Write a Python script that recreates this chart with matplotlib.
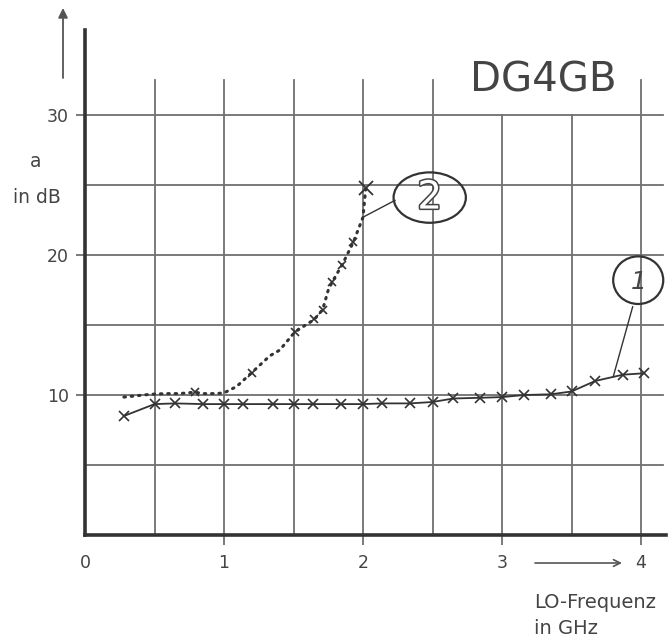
import matplotlib
matplotlib.use("Agg")
import matplotlib.pyplot as plt
from matplotlib.patches import Ellipse
import matplotlib.patheffects as pe

# ---- data ----
freq1 = [0.28, 0.50, 0.65, 0.85, 1.00, 1.14, 1.35, 1.50, 1.64, 1.84, 2.00, 2.14,
         2.34, 2.50, 2.65, 2.84, 3.00, 3.16, 3.35, 3.50, 3.67, 3.87, 4.02]
att1 = [8.5, 9.35, 9.4, 9.35, 9.35, 9.35, 9.35, 9.35, 9.35, 9.35, 9.35, 9.4,
        9.4, 9.5, 9.75, 9.8, 9.85, 10.0, 10.05, 10.25, 11.0, 11.45, 11.55]

freq2 = [0.28, 0.47, 0.58, 0.68, 0.79, 0.85, 0.94, 1.00, 1.09, 1.20, 1.33, 1.40,
         1.51, 1.65, 1.71, 1.75, 1.78, 1.85, 1.93, 2.00, 2.02]
att2 = [9.85, 10.05, 10.1, 10.1, 10.2, 10.1, 10.1, 10.15, 10.6, 11.6, 12.8, 13.2,
        14.5, 15.4, 16.1, 17.5, 18.1, 19.3, 20.9, 22.7, 24.8]
marks2 = [4, 9, 12, 13, 14, 16, 17, 18]
big2 = [20]

xticks = [0, 1, 2, 3, 4]
xticklabels = ["0", "1", "2", "3", "4"]
yticks = [10, 20, 30]
yticklabels = ["10", "20", "30"]
vgrid = [0.5, 1.0, 1.5, 2.0, 2.5, 3.0, 3.5, 4.0]
vgrid_short = [3.0, 3.5]
hgrid = [5, 10, 15, 20, 25, 30]

INK = "#333333"
GRID = "#707070"
TXT = "#444444"

W, H = 670, 641
fig = plt.figure(figsize=(W / 100, H / 100), dpi=100)
fig.patch.set_facecolor("white")
XMAX, YMAX = 4.18, 36.07
ax = fig.add_axes([85 / W, 106 / H, XMAX * 139 / W, 505 / H])
ax.set_xlim(0, XMAX)
ax.set_ylim(0, YMAX)

for s in ("top", "right"):
    ax.spines[s].set_visible(False)
for s in ("left", "bottom"):
    ax.spines[s].set_linewidth(2.6)
    ax.spines[s].set_color(INK)

# grid
for x in vgrid:
    top = 30 if x in vgrid_short else 32.5
    ax.plot([x, x], [0, top], color=GRID, lw=1.3, zorder=1)
for y in hgrid:
    ax.plot([0, 4.16], [y, y], color=GRID, lw=1.3, zorder=1)

ax.set_xticks(xticks)
ax.set_xticklabels(xticklabels)
ax.set_yticks(yticks)
ax.set_yticklabels(yticklabels)
ax.tick_params(axis="x", length=7, width=1.3, color=GRID, pad=7,
               labelsize=12.5, labelcolor=TXT)
ax.tick_params(axis="y", length=6.5, width=1.3, color=GRID, pad=5,
               labelsize=12.5, labelcolor=TXT)
ax.xaxis.get_major_ticks()[0].tick1line.set_visible(False)

# curve 1: solid with x markers
ax.plot(freq1, att1, color=INK, lw=1.3, marker="x", ms=7, mew=1.2, zorder=3)

# curve 2: dotted with some markers
ax.plot(freq2, att2, color=INK, lw=2.2, ls=(0, (0.5, 1.9)),
        dash_capstyle="round", zorder=3)
ax.plot([freq2[i] for i in marks2], [att2[i] for i in marks2], ls="none",
        marker="x", ms=6, mew=1.2, color=INK, zorder=3)
ax.plot([freq2[i] for i in big2], [att2[i] for i in big2], ls="none",
        marker="x", ms=10, mew=1.3, color=INK, zorder=3)

# circled labels
e2 = Ellipse((2.48, 24.1), 0.52, 3.6, fill=False, ec=INK, lw=1.6, clip_on=False, zorder=4)
ax.add_patch(e2)
ax.text(2.48, 24.1, "2", ha="center", va="center", fontsize=28, color="white",
        path_effects=[pe.withStroke(linewidth=2.2, foreground=TXT)], zorder=5)
ax.plot([2.0, 2.23], [22.7, 23.9], color=INK, lw=1.0, zorder=4)

e1 = Ellipse((3.98, 18.2), 0.36, 3.4, fill=False, ec=INK, lw=1.6, clip_on=False, zorder=4)
ax.add_patch(e1)
ax.text(3.98, 18.1, "1", ha="center", va="center", fontsize=18, color=TXT,
        style="italic", zorder=5)
ax.plot([3.94, 3.80], [16.3, 11.3], color=INK, lw=1.0, zorder=4)

# figure-level texts and arrows (pixel positions converted to fractions)
def px(x, y):
    return x / W, 1 - y / H

fig.text(*px(543, 81), "DG4GB", ha="center", va="center", fontsize=29,
         color=TXT, fontweight="medium")
fig.text(*px(36, 162), "a", ha="center", va="center", fontsize=13.5, color=TXT)
fig.text(*px(37, 197), "in dB", ha="center", va="center", fontsize=13.5, color=TXT)
fig.text(*px(534, 603), "LO-Frequenz", ha="left", va="center", fontsize=14, color=TXT)
fig.text(*px(534, 629), "in GHz", ha="left", va="center", fontsize=14, color=TXT)

ax.annotate("", xy=px(63, 8), xytext=px(63, 78), xycoords="figure fraction",
            textcoords="figure fraction",
            arrowprops=dict(arrowstyle="-|>", color="#555555", lw=1.3,
                            mutation_scale=14, shrinkA=0, shrinkB=0),
            annotation_clip=False)
ax.annotate("", xy=px(622, 563), xytext=px(535, 563), xycoords="figure fraction",
            textcoords="figure fraction",
            arrowprops=dict(arrowstyle="->", color="#555555", lw=1.2,
                            mutation_scale=12, shrinkA=0, shrinkB=0),
            annotation_clip=False)

fig.savefig("out.png", dpi=100, facecolor="white")
